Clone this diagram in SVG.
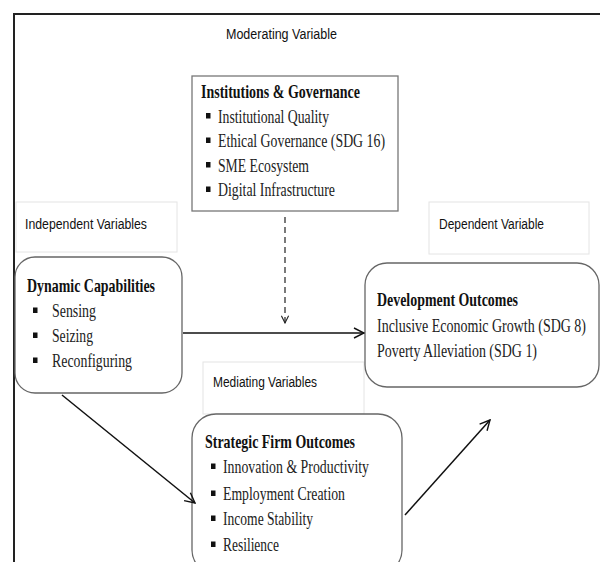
<svg xmlns="http://www.w3.org/2000/svg" width="600" height="562" viewBox="0 0 600 562">
<defs>
<style>
.frame{stroke:#222;stroke-width:2;fill:none}
.lbl{fill:#fff;stroke:#e4e4e4;stroke-width:1}
.box{fill:#fff;stroke:#666;stroke-width:1.3}
.sq{fill:#fff;stroke:#777;stroke-width:1.3}
.sans{font-family:"Liberation Sans",Arial,sans-serif;font-size:15.5px;fill:#111}
.hd{font-family:"Liberation Serif","Times New Roman",serif;font-size:19px;font-weight:bold;fill:#111}
.it{font-family:"Liberation Serif","Times New Roman",serif;font-size:19px;fill:#222}
.bul{fill:#111}
.con{stroke:#111;stroke-width:1.5;fill:none}
.dash{stroke:#222;stroke-width:1.2;fill:none;stroke-dasharray:6 4}
</style>
<marker id="ah" viewBox="0 0 12 12" refX="11" refY="6" markerWidth="12" markerHeight="12" markerUnits="userSpaceOnUse" orient="auto">
<path d="M1,1 L11,6 L1,11" fill="none" stroke="#111" stroke-width="1.4"/>
</marker>
<marker id="ahs" viewBox="0 0 10 10" refX="9" refY="5" markerWidth="9" markerHeight="9" markerUnits="userSpaceOnUse" orient="auto">
<path d="M1,1 L9,5 L1,9" fill="none" stroke="#222" stroke-width="1.2"/>
</marker>
</defs>
<rect width="600" height="562" fill="#fff"/>
<path class="frame" d="M14,562 L14,14 L600,14"/>

<g id="moderating-label">
<text class="sans" x="226" y="39" textLength="111" lengthAdjust="spacingAndGlyphs">Moderating Variable</text>
</g>

<g id="institutions">
<rect class="sq" x="192" y="76" width="206" height="135"/>
<text class="hd" x="201" y="98" textLength="159" lengthAdjust="spacingAndGlyphs">Institutions &amp; Governance</text>
<rect class="bul" x="206" y="113" width="4.5" height="5.5"/>
<text class="it" x="218" y="122.5" textLength="111" lengthAdjust="spacingAndGlyphs">Institutional Quality</text>
<rect class="bul" x="206" y="137.5" width="4.5" height="5.5"/>
<text class="it" x="218" y="147" textLength="167" lengthAdjust="spacingAndGlyphs">Ethical Governance (SDG 16)</text>
<rect class="bul" x="206" y="162" width="4.5" height="5.5"/>
<text class="it" x="218" y="171.5" textLength="91" lengthAdjust="spacingAndGlyphs">SME Ecosystem</text>
<rect class="bul" x="206" y="186.5" width="4.5" height="5.5"/>
<text class="it" x="218" y="196" textLength="117" lengthAdjust="spacingAndGlyphs">Digital Infrastructure</text>
</g>

<g id="independent-label">
<rect class="lbl" x="16" y="202" width="161" height="50"/>
<text class="sans" x="25" y="229" textLength="122" lengthAdjust="spacingAndGlyphs">Independent Variables</text>
</g>

<g id="dependent-label">
<rect class="lbl" x="429" y="202" width="160" height="52"/>
<text class="sans" x="439" y="229" textLength="105" lengthAdjust="spacingAndGlyphs">Dependent Variable</text>
</g>

<g id="mediating-label">
<rect class="lbl" x="203" y="362" width="161" height="52"/>
<text class="sans" x="213" y="387" textLength="104" lengthAdjust="spacingAndGlyphs">Mediating Variables</text>
</g>

<g id="dynamic-capabilities">
<rect class="box" x="15" y="257" width="167" height="136" rx="20" ry="20"/>
<text class="hd" x="27" y="292" textLength="128" lengthAdjust="spacingAndGlyphs">Dynamic Capabilities</text>
<rect class="bul" x="33" y="307.5" width="4.5" height="5.5"/>
<text class="it" x="52" y="317" textLength="44" lengthAdjust="spacingAndGlyphs">Sensing</text>
<rect class="bul" x="33" y="332.5" width="4.5" height="5.5"/>
<text class="it" x="52" y="342" textLength="41" lengthAdjust="spacingAndGlyphs">Seizing</text>
<rect class="bul" x="33" y="357.5" width="4.5" height="5.5"/>
<text class="it" x="52" y="367" textLength="80" lengthAdjust="spacingAndGlyphs">Reconfiguring</text>
</g>

<g id="development-outcomes">
<rect class="box" x="365" y="263" width="234" height="124" rx="22" ry="22"/>
<text class="hd" x="377" y="306" textLength="141" lengthAdjust="spacingAndGlyphs">Development Outcomes</text>
<text class="it" transform="translate(377,332) scale(0.7,1)" x="0" y="0" textLength="298.6" lengthAdjust="spacingAndGlyphs">Inclusive Economic Growth (SDG 8)</text>
<text class="it" x="377" y="357" textLength="160" lengthAdjust="spacingAndGlyphs">Poverty Alleviation (SDG 1)</text>
</g>

<g id="strategic-firm-outcomes">
<rect class="box" x="192" y="414" width="210" height="160" rx="24" ry="24"/>
<text class="hd" x="205" y="448" textLength="150" lengthAdjust="spacingAndGlyphs">Strategic Firm Outcomes</text>
<rect class="bul" x="211" y="463.5" width="4.5" height="5.5"/>
<text class="it" x="223" y="473" textLength="146" lengthAdjust="spacingAndGlyphs">Innovation &amp; Productivity</text>
<rect class="bul" x="211" y="490.5" width="4.5" height="5.5"/>
<text class="it" x="223" y="500" textLength="122" lengthAdjust="spacingAndGlyphs">Employment Creation</text>
<rect class="bul" x="211" y="515.5" width="4.5" height="5.5"/>
<text class="it" x="223" y="525" textLength="90" lengthAdjust="spacingAndGlyphs">Income Stability</text>
<rect class="bul" x="211" y="541.5" width="4.5" height="5.5"/>
<text class="it" x="223" y="551" textLength="56" lengthAdjust="spacingAndGlyphs">Resilience</text>
</g>

<g id="connectors">
<line class="dash" x1="285" y1="217" x2="285" y2="323" marker-end="url(#ahs)"/>
<line class="con" x1="183" y1="333" x2="364" y2="333" marker-end="url(#ah)"/>
<line class="con" x1="62" y1="395" x2="195" y2="503" marker-end="url(#ah)"/>
<line class="con" x1="405" y1="515" x2="490" y2="420" marker-end="url(#ah)"/>
</g>
</svg>
